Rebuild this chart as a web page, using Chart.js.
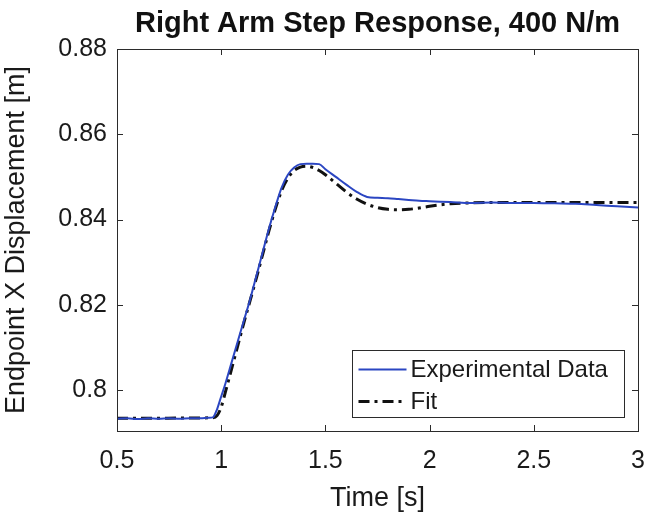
<!DOCTYPE html>
<html>
<head>
<meta charset="utf-8">
<title>Right Arm Step Response</title>
<script src="https://cdn.jsdelivr.net/npm/chart.js@4.4.0/dist/chart.umd.min.js"></script>
<style>
  html, body { margin: 0; padding: 0; background: #fff; }
  #wrap { width: 650px; height: 520px; }
</style>
</head>
<body>
<div id="wrap"><canvas id="stepChart" width="650" height="520"></canvas></div>
<script>
// time samples [s] for the measured response
const expTime = [
  0.50, 0.55, 0.60, 0.65, 0.70, 0.75, 0.80, 0.85, 0.90, 0.94, 0.96, 0.98,
  1.00, 1.02, 1.05, 1.08, 1.11, 1.14, 1.17, 1.20, 1.23, 1.26, 1.29, 1.32,
  1.35, 1.38, 1.41, 1.44, 1.47, 1.50, 1.55, 1.60, 1.65, 1.70, 1.75, 1.80,
  1.85, 1.90, 1.95, 2.00, 2.10, 2.20, 2.30, 2.40, 2.50, 2.60, 2.70, 2.80,
  2.90, 3.00
];
// endpoint x displacement [m]
const expDisp = [
  0.7933, 0.7934, 0.7932, 0.7934, 0.7933, 0.7934, 0.7933, 0.7934, 0.7934, 0.7935, 0.7936, 0.7955,
  0.7985, 0.8015, 0.8065, 0.8115, 0.8165, 0.8215, 0.8270, 0.8325, 0.8380, 0.8430, 0.8475, 0.8505,
  0.8522, 0.8530, 0.8531, 0.8531, 0.8530, 0.8518, 0.8500, 0.8482, 0.8465, 0.8453, 0.8451, 0.8450,
  0.8448, 0.8446, 0.8444, 0.8443, 0.8441, 0.8439, 0.8440, 0.8439, 0.8439, 0.8438, 0.8437, 0.8434,
  0.8431, 0.8428
];

// fitted second order model
const fitTime = [
  0.50, 0.96, 0.98, 1.00, 1.02, 1.05, 1.08, 1.11, 1.14, 1.17, 1.20, 1.23,
  1.26, 1.29, 1.32, 1.35, 1.38, 1.41, 1.44, 1.47, 1.50, 1.55, 1.60, 1.65,
  1.70, 1.75, 1.80, 1.85, 1.90, 1.95, 2.00, 2.10, 2.20, 2.30, 2.50, 2.70,
  2.90, 3.00
];
const fitDisp = [
  0.7934, 0.7935, 0.7940, 0.7960, 0.7995, 0.8050, 0.8105, 0.8160, 0.8212, 0.8265, 0.8320, 0.8375,
  0.8425, 0.8468, 0.8497, 0.8515, 0.8523, 0.8525, 0.8522, 0.8515, 0.8505, 0.8485, 0.8465, 0.8448,
  0.8436, 0.8428, 0.8424, 0.8423, 0.8424, 0.8427, 0.8431, 0.8437, 0.8439, 0.8440, 0.8440, 0.8440,
  0.8440, 0.8440
];

const xTicks = [0.5, 1, 1.5, 2, 2.5, 3];
const yTicks = [0.80, 0.82, 0.84, 0.86, 0.88];

const fontFamily = "'Liberation Sans', Arial, Helvetica, sans-serif";
const inkColor = "#1a1a1a";
const frameColor = "#2b2b2b";

// MATLAB style box with inward ticks on all four sides
const frameTicks = {
  id: "frameTicks",
  afterDatasetsDraw(chart) {
    const { ctx, chartArea: a, scales } = chart;
    const len = 6;
    ctx.save();
    ctx.strokeStyle = frameColor;
    ctx.lineWidth = 1;
    ctx.beginPath();
    scales.x.ticks.forEach(t => {
      const px = Math.round(scales.x.getPixelForValue(t.value)) + 0.5;
      ctx.moveTo(px, a.bottom); ctx.lineTo(px, a.bottom - len);
      ctx.moveTo(px, a.top); ctx.lineTo(px, a.top + len);
    });
    scales.y.ticks.forEach(t => {
      const py = Math.round(scales.y.getPixelForValue(t.value)) + 0.5;
      ctx.moveTo(a.left, py); ctx.lineTo(a.left + len, py);
      ctx.moveTo(a.right, py); ctx.lineTo(a.right - len, py);
    });
    ctx.stroke();
    ctx.strokeRect(Math.round(a.left) + 0.5, Math.round(a.top) + 0.5,
      Math.round(a.right - a.left), Math.round(a.bottom - a.top));
    ctx.restore();
  }
};

// legend drawn inside the axes, lower right corner
const insideLegend = {
  id: "insideLegend",
  afterDraw(chart) {
    const { ctx, chartArea: a } = chart;
    const w = 272, h = 67, gap = 14;
    const x0 = Math.round(a.right - gap - w) + 0.5;
    const y0 = Math.round(a.bottom - gap - h) + 0.5;
    ctx.save();
    ctx.fillStyle = "#fff";
    ctx.fillRect(x0, y0, w, h);
    ctx.strokeStyle = frameColor;
    ctx.lineWidth = 1;
    ctx.strokeRect(x0, y0, w, h);
    ctx.font = "24px " + fontFamily;
    ctx.textBaseline = "middle";
    ctx.fillStyle = inkColor;
    chart.data.datasets.forEach((ds, i) => {
      const cy = y0 + 19 + i * 32;
      ctx.beginPath();
      ctx.strokeStyle = ds.borderColor;
      ctx.lineWidth = ds.borderWidth;
      ctx.setLineDash(ds.borderDash || []);
      ctx.moveTo(x0 + 6, cy);
      ctx.lineTo(x0 + 54, cy);
      ctx.stroke();
      ctx.setLineDash([]);
      ctx.fillText(ds.label, x0 + 58, cy + 1);
    });
    ctx.restore();
  }
};

const ctx = document.getElementById("stepChart").getContext("2d");

new Chart(ctx, {
  type: "line",
  data: {
    datasets: [
      {
        label: "Experimental Data",
        data: expTime.map((t, i) => ({ x: t, y: expDisp[i] })),
        borderColor: "#2b46c2",
        borderWidth: 2,
        pointRadius: 0,
        cubicInterpolationMode: "monotone",
        fill: false
      },
      {
        label: "Fit",
        data: fitTime.map((t, i) => ({ x: t, y: fitDisp[i] })),
        borderColor: "#111",
        borderWidth: 3,
        borderDash: [11, 5, 3, 5],
        pointRadius: 0,
        cubicInterpolationMode: "monotone",
        fill: false
      }
    ]
  },
  options: {
    responsive: false,
    animation: false,
    layout: { padding: { left: 0, right: 12, top: 0, bottom: 0 } },
    plugins: {
      legend: { display: false },
      tooltip: { enabled: false },
      title: {
        display: true,
        fullSize: false,
        text: "Right Arm Step Response, 400 N/m",
        color: "#111",
        font: { family: fontFamily, size: 29, weight: "bold" },
        padding: { top: 7, bottom: 7.2 }
      }
    },
    scales: {
      x: {
        type: "linear",
        min: 0.5,
        max: 3,
        afterBuildTicks: s => { s.ticks = xTicks.map(v => ({ value: v })); },
        afterFit: s => { s.height = 89; s.paddingLeft = 0; s.paddingRight = 0; },
        grid: { display: false, drawTicks: false, tickLength: 0 },
        border: { display: false },
        ticks: {
          color: inkColor,
          padding: 15,
          maxRotation: 0,
          font: { family: fontFamily, size: 25 },
          callback: v => String(+Number(v).toFixed(2))
        },
        title: {
          display: true,
          text: "Time [s]",
          color: inkColor,
          font: { family: fontFamily, size: 27 },
          padding: { top: 0, bottom: 5 }
        }
      },
      y: {
        type: "linear",
        min: 0.7904,
        max: 0.88,
        afterBuildTicks: s => { s.ticks = yTicks.map(v => ({ value: v })); },
        afterFit: s => { s.width = 117; },
        grid: { display: false, drawTicks: false, tickLength: 0 },
        border: { display: false },
        ticks: {
          color: inkColor,
          padding: 10,
          font: { family: fontFamily, size: 25 },
          callback: v => String(+Number(v).toFixed(2))
        },
        title: {
          display: true,
          text: "Endpoint X Displacement [m]",
          color: inkColor,
          font: { family: fontFamily, size: 27 },
          padding: { top: 0, bottom: 0 }
        }
      }
    }
  },
  plugins: [frameTicks, insideLegend]
});
</script>
</body>
</html>
